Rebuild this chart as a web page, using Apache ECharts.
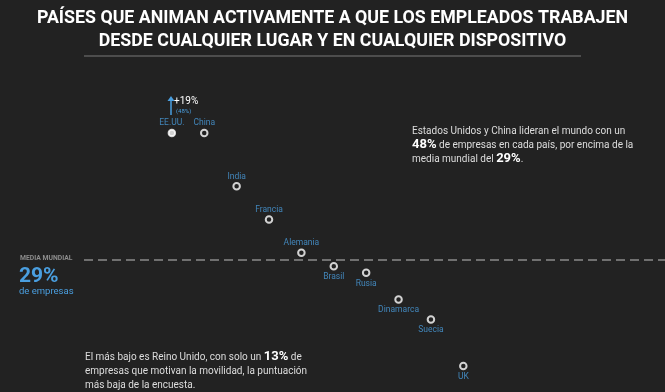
<!DOCTYPE html>
<html><head><meta charset="utf-8">
<script src="https://cdn.jsdelivr.net/npm/echarts@6/dist/echarts.min.js"></script>
<style>html,body{margin:0;padding:0;background:#222222;}#c{width:665px;height:392px;}</style>
</head><body><div id="c"></div>
<script>
var countries = ['EE.UU.', 'China', 'India', 'Francia', 'Alemania', 'Brasil', 'Rusia', 'Dinamarca', 'Suecia', 'UK'];
var values = [48, 48, 40, 35, 30, 28, 27, 23, 20, 13];
var labelBelow = [false, false, false, false, false, true, true, true, true, true];
var worldMean = 29;

var blue = '#4a9fe0';
var data = countries.map(function (c, i) {
  return {
    name: c,
    value: [i, values[i]],
    itemStyle: i === 0 ? { color: '#ffffff' } : undefined,
    label: { position: labelBelow[i] ? 'bottom' : 'top', distance: labelBelow[i] ? 2 : 1 }
  };
});

var chart = echarts.init(document.getElementById('c'));
chart.setOption({
  backgroundColor: '#222222',
  animation: false,
  textStyle: { fontFamily: 'Roboto, sans-serif' },
  grid: { left: 84, right: 0, top: 119.7, height: 266.3 },
  xAxis: { type: 'value', min: -2.713, max: 15.228, show: false },
  yAxis: { type: 'value', min: 10, max: 50, show: false },
  series: [{
    type: 'scatter',
    symbol: 'circle',
    symbolSize: 6.5,
    itemStyle: { color: '#222222', borderColor: '#ffffff', borderWidth: 2 },
    label: {
      show: true,
      formatter: '{b}',
      color: blue,
      fontSize: 8.5,
      fontFamily: 'Roboto, sans-serif'
    },
    data: data,
    markLine: {
      silent: true,
      symbol: 'none',
      label: { show: false },
      lineStyle: { color: '#8a8a8a', type: [9, 5], width: 1.5 },
      data: [{ yAxis: worldMean }]
    }
  }],
  graphic: [
    { type: 'text', left: 'center', top: 7, style: { text: 'PAÍSES QUE ANIMAN ACTIVAMENTE A QUE LOS EMPLEADOS TRABAJEN\nDESDE CUALQUIER LUGAR Y EN CUALQUIER DISPOSITIVO', fill: '#ffffff', font: 'bold 17.8px Roboto, sans-serif', textAlign: 'center', lineHeight: 23 } },
    { type: 'rect', shape: { x: 84, y: 55, width: 497, height: 2 }, style: { fill: '#4d4d4d' } },
    { type: 'text', left: 20, top: 255, style: { text: 'MEDIA MUNDIAL', fill: '#8c8c8c', font: 'bold 6.8px Roboto, sans-serif' } },
    { type: 'text', left: 19, top: 266, style: { text: '29%', fill: blue, font: 'bold 21px Roboto, sans-serif' } },
    { type: 'text', left: 19, top: 287, style: { text: 'de empresas', fill: blue, font: '9.5px Roboto, sans-serif' } },
    { type: 'line', shape: { x1: 171, y1: 115, x2: 171, y2: 99 }, style: { stroke: blue, lineWidth: 1.5 } },
    { type: 'polygon', shape: { points: [[167.5, 101], [171, 96], [174.5, 101]] }, style: { fill: blue } },
    { type: 'text', left: 174, top: 96, style: { text: '+19%', fill: '#ffffff', font: '10px Roboto, sans-serif' } },
    { type: 'text', left: 176, top: 108, style: { text: '(48%)', fill: blue, font: '6px Roboto, sans-serif' } },
    { type: 'text', left: 412, top: 124, style: {
      text: 'Estados Unidos y China lideran el mundo con un\n{b|48%} de empresas en cada país, por encima de la\nmedia mundial del {b|29%}.',
      fill: '#dddddd', font: '10px Roboto, sans-serif', lineHeight: 14,
      rich: { b: { fill: '#ffffff', font: 'bold 13px Roboto, sans-serif' } } } },
    { type: 'text', left: 85, top: 350, style: {
      text: 'El más bajo es Reino Unido, con solo un {b|13%} de\nempresas que motivan la movilidad, la puntuación\nmás baja de la encuesta.',
      fill: '#dddddd', font: '10px Roboto, sans-serif', lineHeight: 14,
      rich: { b: { fill: '#ffffff', font: 'bold 13px Roboto, sans-serif' } } } }
  ]
});
</script></body></html>
